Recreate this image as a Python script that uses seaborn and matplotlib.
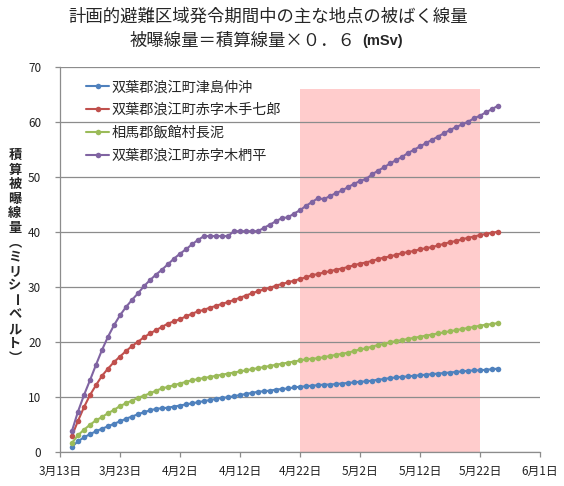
import pandas as pd
import numpy as np
import matplotlib
matplotlib.use('Agg')
import matplotlib.pyplot as plt
import matplotlib.dates as mdates
from matplotlib.ticker import FuncFormatter
import seaborn as sns

# --- DATA ---
START_DATE = '2011-03-15'
N_DAYS = 72

names = ['双葉郡浪江町津島仲沖', '双葉郡浪江町赤字木手七郎', '相馬郡飯館村長泥', '双葉郡浪江町赤字木椚平']

tsushima = [0.9, 1.9, 2.6, 3.2, 3.7, 4.2, 4.6, 5.1, 5.5, 6.0, 6.4, 6.8, 7.2, 7.5, 7.8, 7.9, 8.0, 8.2,
            8.4, 8.6, 8.8, 9.0, 9.2, 9.4, 9.6, 9.8, 9.9, 10.1, 10.3, 10.5, 10.7, 10.9, 11.0, 11.1, 11.3, 11.4,
            11.5, 11.7, 11.8, 11.9, 12.0, 12.1, 12.2, 12.2, 12.3, 12.4, 12.5, 12.6, 12.7, 12.8, 12.9, 13.1,
            13.2, 13.4, 13.5, 13.6, 13.7, 13.8, 13.9, 14.0, 14.1, 14.2, 14.3, 14.4, 14.5, 14.6, 14.7, 14.8,
            14.8, 14.9, 15.0, 15.1]

teshichiro = [2.9, 5.6, 8.1, 10.3, 12.1, 13.8, 15.1, 16.3, 17.3, 18.3, 19.2, 20.0, 20.8, 21.5, 22.1, 22.7,
              23.3, 23.7, 24.1, 24.6, 25.1, 25.5, 25.8, 26.2, 26.5, 26.9, 27.2, 27.6, 28.0, 28.4, 28.8, 29.2,
              29.5, 29.8, 30.2, 30.5, 30.8, 31.1, 31.4, 31.7, 32.1, 32.3, 32.6, 32.8, 33.1, 33.3, 33.6, 33.9,
              34.2, 34.4, 34.7, 35.0, 35.3, 35.5, 35.8, 36.1, 36.3, 36.5, 36.8, 37.0, 37.2, 37.5, 37.8, 38.1,
              38.3, 38.6, 38.9, 39.1, 39.4, 39.6, 39.8, 40.0]

nagadoro = [1.6, 3.0, 4.0, 4.9, 5.7, 6.3, 7.0, 7.6, 8.3, 8.8, 9.3, 9.8, 10.2, 10.6, 11.1, 11.5, 11.8, 12.1,
            12.4, 12.7, 13.0, 13.2, 13.4, 13.6, 13.8, 14.0, 14.2, 14.4, 14.6, 14.8, 15.0, 15.2, 15.4, 15.6,
            15.8, 16.0, 16.2, 16.4, 16.6, 16.8, 16.9, 17.0, 17.2, 17.4, 17.6, 17.8, 18.0, 18.3, 18.6, 18.8,
            19.1, 19.4, 19.6, 19.9, 20.1, 20.3, 20.5, 20.7, 20.9, 21.1, 21.3, 21.5, 21.7, 21.9, 22.1, 22.3,
            22.5, 22.7, 22.9, 23.1, 23.2, 23.4]

kunugidaira = [3.8, 7.3, 10.3, 13.0, 15.8, 18.5, 20.9, 23.0, 24.8, 26.3, 27.6, 28.8, 30.1, 31.2, 32.2,
               33.1, 34.1, 35.1, 36.0, 36.8, 37.7, 38.5, 39.2, 39.2, 39.2, 39.2, 39.2, 40.1, 40.1, 40.1,
               40.1, 40.1, 40.7, 41.3, 41.9, 42.5, 42.6, 43.3, 43.9, 44.7, 45.4, 46.1, 45.9, 46.5, 47.0,
               47.5, 48.1, 48.7, 49.2, 49.6, 50.4, 51.1, 51.7, 52.4, 53.0, 53.6, 54.3, 54.9, 55.5, 56.1,
               56.7, 57.3, 57.9, 58.5, 59.0, 59.5, 60.0, 60.6, 61.1, 61.7, 62.3, 62.9]

colors = ['#4F81BD', '#C0504D', '#9BBB59', '#8064A2']

# highlighted period
HIGHLIGHT_START = '2011-04-22'
HIGHLIGHT_END = '2011-05-22'
HIGHLIGHT_TOP = 66

title1 = '計画的避難区域発令期間中の主な地点の被ばく線量'
title2 = '被曝線量＝積算線量×０．６'
title2_unit = '(mSv)'
ylabel_text = '積算被曝線量（ミリシーベルト）'

# --- PLOT ---
sns.set_theme(style='white')
plt.rcParams['font.family'] = ['Noto Sans CJK JP', 'DejaVu Sans']

dates = pd.date_range(START_DATE, periods=N_DAYS, freq='D')
df = pd.DataFrame({'date': np.tile(dates, 4),
                   'value': tsushima + teshichiro + nagadoro + kunugidaira,
                   'place': np.repeat(names, N_DAYS)})

fig = plt.figure(figsize=(5.64, 4.86), dpi=100)
ax = fig.add_axes([60 / 564, 1 - 451.7 / 486, 480 / 564, 385 / 486])

ax.axvspan(pd.Timestamp(HIGHLIGHT_START), pd.Timestamp(HIGHLIGHT_END), ymin=0, ymax=HIGHLIGHT_TOP / 70,
           color='#FFCCCC', lw=0, zorder=0)

sns.lineplot(data=df, x='date', y='value', hue='place', hue_order=names, palette=colors,
             marker='o', markersize=4, markeredgewidth=0, linewidth=1.5, ax=ax, zorder=3)

ax.set_xlim(pd.Timestamp('2011-03-13'), pd.Timestamp('2011-06-01'))
ax.set_ylim(0, 70)
ax.set_yticks(range(0, 71, 10))
ax.set_xticks(pd.date_range('2011-03-13', '2011-06-01', freq='10D'))
ax.xaxis.set_major_formatter(FuncFormatter(lambda v, p: f"{mdates.num2date(v).month}月{mdates.num2date(v).day}日"))

ax.grid(axis='y', color='#8C8C8C', linewidth=0.9)
ax.set_axisbelow(True)
for s in ['top', 'right']:
    ax.spines[s].set_visible(False)
for s in ['left', 'bottom']:
    ax.spines[s].set_color('#8C8C8C')
    ax.spines[s].set_linewidth(0.9)
ax.tick_params(axis='both', which='major', direction='out', length=3.5, width=0.9, color='#8C8C8C',
               labelsize=8.5, labelcolor='#222222')
ax.tick_params(axis='y', pad=10, left=True)
ax.tick_params(axis='x', pad=6, bottom=True)
ax.set_xlabel('')
ax.set_ylabel('')

leg = ax.legend(loc='upper left', bbox_to_anchor=(0.055, 0.965), frameon=False, fontsize=10.2,
                borderaxespad=0, borderpad=0, handlelength=1.6, handletextpad=0.2, labelspacing=0.62)
for h in leg.legend_handles:
    h.set_linewidth(1.5)

fig.text(268 / 564, 1 - 17 / 486, title1, ha='center', va='center', fontsize=12.5)
fig.text(356 / 564, 1 - 41 / 486, title2, ha='right', va='center', fontsize=12.5)
fig.text(362 / 564, 1 - 41 / 486, title2_unit, ha='left', va='center', fontsize=10.5,
         fontweight='bold', family=['Liberation Sans', 'DejaVu Sans'])

# vertical (tategaki) y label: one character per line
vertical_forms = {'（': '︵', '）': '︶'}
for i, ch in enumerate(ylabel_text):
    rot = -90 if ch == 'ー' else 0
    fig.text(15 / 564, 1 - (155 + i * 14.5) / 486, vertical_forms.get(ch, ch), ha='center', va='center',
             fontsize=9.5, fontweight='bold', rotation=rot)

fig.savefig('out.png', dpi=100)
